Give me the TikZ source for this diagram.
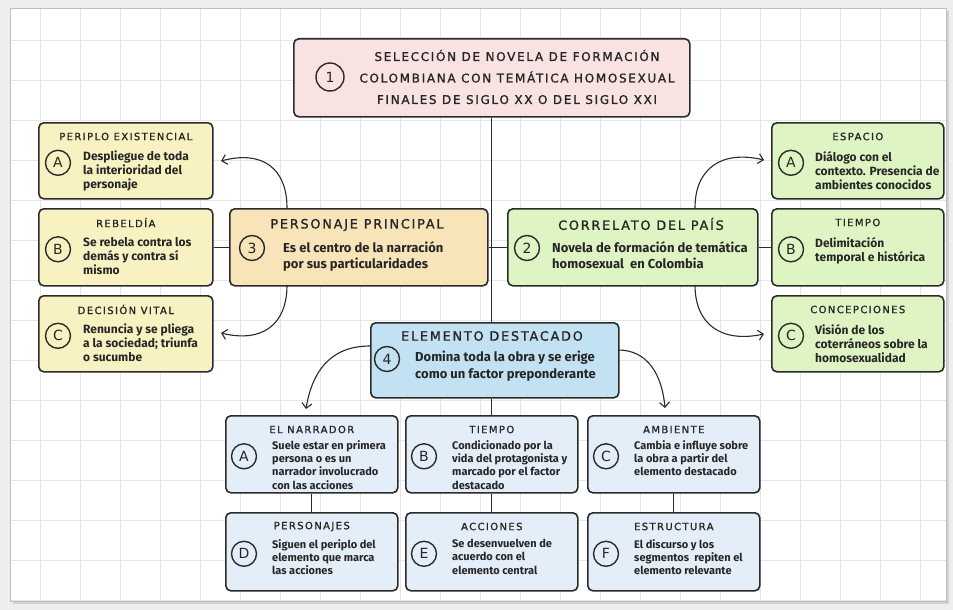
\documentclass[tikz,border=0pt]{standalone}
\usepackage{fontspec}
\setmainfont{Fira Sans}
\newfontfamily\headfont[LetterSpace=14,FakeBold=1.2]{DejaVu Sans}
\newfontfamily\bodyfont{Fira Sans}
\newfontfamily\circfont{DejaVu Sans}
\usetikzlibrary{arrows.meta,calc}
\definecolor{bordc}{HTML}{2B2B2B}
\definecolor{textc}{HTML}{262626}
\definecolor{pinkc}{HTML}{F9E2E2}
\definecolor{yelc}{HTML}{F8F2C3}
\definecolor{peachc}{HTML}{F7E4B8}
\definecolor{greenc}{HTML}{DFF4C3}
\definecolor{bluec}{HTML}{C2E1F3}
\definecolor{lbluec}{HTML}{E4EEF8}
\definecolor{gridc}{HTML}{E6E6E6}
\definecolor{bgc}{HTML}{EEEEEE}
\def\bsz{12}\def\bbs{14}\def\byo{29}\def\bxo{45}\def\cxo{20}
\newcommand\mkbox[9]{%
  \node[box, fill=#6, minimum width=#4pt, minimum height=#5pt, anchor=north west] (#1) at (#2,#3) {};
  \node[head] (#1-h) at ([yshift=-14.5pt]#1.north) {#7};
  \node[circ] (#1-c) at ([xshift=\cxo pt,yshift=-2pt]#1.west) {#8};
  \node[body] (#1-b) at ([xshift=\bxo pt,yshift=-\byo pt]#1.north west) {#9};
}
\begin{document}
\begin{tikzpicture}[x=1pt,y=-1pt,
  box/.style={draw=bordc, line width=1.6pt, rounded corners=5pt, inner sep=0pt},
  head/.style={font=\headfont\fontsize{10}{11}\selectfont, text=textc, inner sep=0pt},
  bighead/.style={font=\headfont\fontsize{12.8}{14}\selectfont, text=textc, inner sep=0pt},
  circ/.style={circle, draw=bordc, line width=1.4pt, minimum size=25pt, inner sep=0pt, font=\circfont\fontsize{14}{14}\selectfont, text=textc},
  body/.style={font=\bodyfont\bfseries\fontsize{\bsz}{\bbs}\selectfont, text=textc, align=left, anchor=north west, inner sep=0pt},
  conn/.style={draw=bordc, line width=1.3pt},
  arr/.style={draw=bordc, line width=1.1pt, -{Straight Barb[length=5pt,width=10pt,line width=1.1pt]}}]
% background and sheet
\fill[bgc] (0,0) rectangle (953,610);
\fill[black!18] (13,11) rectangle (949,604);
\fill[white] (10,8) rectangle (946,601);
\begin{scope}
\clip (10,8) rectangle (946,601);
\draw[gridc, line width=0.6pt] (10,8) grid[step=40pt] (946,601);
\end{scope}
\draw[black!25, line width=0.5pt] (10,8) rectangle (946,601);

% top box
\node[box, fill=pinkc, minimum width=396pt, minimum height=78pt, anchor=north west] (top) at (293,38) {};
\node[circ, minimum size=28pt] (top-c) at (330,77) {1};
\node[font=\headfont\fontsize{12}{21.5}\selectfont, text=textc, align=center, inner sep=0pt] (top-t) at (517,77) {SELECCIÓN DE NOVELA DE FORMACIÓN\\COLOMBIANA CON TEMÁTICA HOMOSEXUAL\\FINALES DE SIGLO XX O DEL SIGLO XXI};

% left column
\mkbox{la}{38}{122}{174}{76}{yelc}{PERIPLO EXISTENCIAL}{A}{Despliegue de toda\\la interioridad del\\personaje}
\mkbox{lb}{38}{208}{174}{77}{yelc}{REBELDÍA}{B}{Se rebela contra los\\demás y contra sí\\mismo}
\mkbox{lc}{38}{295}{174}{76}{yelc}{DECISIÓN VITAL}{C}{Renuncia y se pliega\\a la sociedad; triunfa\\o sucumbe}

% right column
\def\bxo{44}
\mkbox{ra}{771}{122}{172}{76}{greenc}{ESPACIO}{A}{Diálogo con el\\contexto. Presencia de\\ambientes conocidos}
\mkbox{rb}{771}{208}{172}{77}{greenc}{TIEMPO}{B}{Delimitación\\temporal e histórica}
\mkbox{rc}{771}{295}{172}{76}{greenc}{CONCEPCIONES}{C}{Visión de los\\coterráneos sobre la\\homosexualidad}

% personaje principal
\def\bsz{13}\def\bbs{16.5}
\node[box, fill=peachc, minimum width=258pt, minimum height=77pt, anchor=north west] (pp) at (229,208) {};
\node[bighead] (pp-h) at (357,225) {PERSONAJE PRINCIPAL};
\node[circ] (pp-c) at (252,248) {3};
\node[body] (pp-b) at (283,241) {Es el centro de la narración\\por sus particularidades};

% correlato
\node[box, fill=greenc, minimum width=250pt, minimum height=77pt, anchor=north west] (cp) at (507,208) {};
\node[bighead] (cp-h) at (641,224) {CORRELATO DEL PAÍS};
\node[circ] (cp-c) at (527,248) {2};
\node[body] (cp-b) at (552,241) {Novela de formación de temática\\homosexual\ \ en Colombia};

% elemento destacado
\node[box, fill=bluec, minimum width=248pt, minimum height=75pt, anchor=north west] (el) at (370,322) {};
\node[bighead] (el-h) at (492,336) {ELEMENTO DESTACADO};
\node[circ] (el-c) at (387,359) {4};
\node[body] (el-b) at (415,351) {Domina toda la obra y se erige\\como un factor preponderante};

% bottom rows
\def\bsz{11}\def\bbs{13.4}\def\byo{25}\def\bxo{47}\def\cxo{19}
\mkbox{ba}{225}{415}{172}{77}{lbluec}{EL NARRADOR}{A}{Suele estar en primera\\persona o es un\\narrador involucrado\\con las acciones}
\mkbox{bb}{405}{415}{172}{77}{lbluec}{TIEMPO}{B}{Condicionado por la\\vida del protagonista y\\marcado por el factor\\destacado}
\mkbox{bc}{587}{415}{172}{77}{lbluec}{AMBIENTE}{C}{Cambia e influye sobre\\la obra a partir del\\elemento destacado}
\def\byo{27}
\mkbox{bd}{225}{512}{172}{78}{lbluec}{PERSONAJES}{D}{Siguen el periplo del\\elemento que marca\\las acciones}
\mkbox{be}{405}{512}{172}{78}{lbluec}{ACCIONES}{E}{Se desenvuelven de\\acuerdo con el\\elemento central}
\mkbox{bf}{587}{512}{172}{78}{lbluec}{ESTRUCTURA}{F}{El discurso y los\\segmentos\ \ repiten el\\elemento relevante}

% straight connectors
\draw[conn] (top.south) -- (top.south |- el.north);
\draw[conn] (lb.east) -- (pp.west);
\draw[conn] (pp.east) -- (cp.west);
\draw[conn] (cp.east) -- (rb.west);
\draw[conn] (el.south -| bb.north) -- (bb.north);
\draw[conn] (ba.south) -- (bd.north);
\draw[conn] (bb.south) -- (be.north);
\draw[conn] (bc.south) -- (bf.north);

% curved arrows
\coordinate (c1) at (287,208);
\coordinate (e1) at (221,161);
\coordinate (c2) at (287,285);
\coordinate (e2) at (221,333);
\coordinate (c3) at (695,208);
\coordinate (e3) at (764,160);
\coordinate (c4) at (695,285);
\coordinate (e4) at (764,334);
\coordinate (c5) at (370,346);
\coordinate (e5) at (306,409);
\coordinate (c6) at (618,350);
\coordinate (e6) at (665,408);
\draw[arr] (c1) .. controls (287,168) and (262,150) .. (e1);
\draw[arr] (c2) .. controls (287,325) and (262,343) .. (e2);
\draw[arr] (c3) .. controls (695,168) and (722,150) .. (e3);
\draw[arr] (c4) .. controls (695,325) and (722,343) .. (e4);
\draw[arr] (c5) .. controls (330,346) and (312,372) .. (e5);
\draw[arr] (c6) .. controls (648,350) and (662,375) .. (e6);
\end{tikzpicture}
\end{document}
